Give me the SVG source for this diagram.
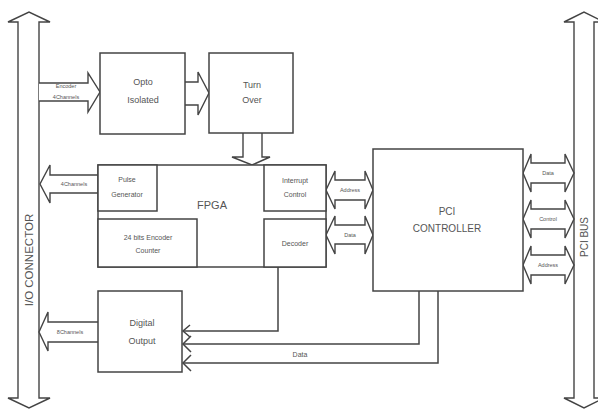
<svg xmlns="http://www.w3.org/2000/svg" width="598" height="410" viewBox="0 0 598 410">
<style>
.box{fill:#fff;stroke:#444;stroke-width:1.5}
.ar{fill:#fff;stroke:#444;stroke-width:1.4;stroke-linejoin:miter}
.ln{fill:none;stroke:#444;stroke-width:1.5}
text{font-family:"Liberation Sans",Arial,sans-serif;fill:#555;text-anchor:middle}
.t9{font-size:9px}
.t7{font-size:7px}
.t6{font-size:5.5px}
.t11{font-size:11px}
</style>
<rect width="598" height="410" fill="#fff"/>
<g id="io-connector">
<path class="ar" d="M18,22 L8,22 L29,12 L50,22 L39,22 L39,398 L50,398 L29,408 L8,398 L18,398 Z"/>
<text font-size="11.5" transform="translate(33,260) rotate(-90)">I/O CONNECTOR</text>
</g>
<g id="pci-bus">
<path class="ar" d="M574,22 L564,22 L584,12 L604,22 L594,22 L594,398 L604,398 L584,408 L564,398 L574,398 Z"/>
<text font-size="10" transform="translate(588,237) rotate(-90)">PCI BUS</text>
</g>
<g id="connectors">
<path class="ar" d="M39,83 L88,83 L88,73 L100,92 L88,112 L88,101 L39,101"/>
<text class="t6" x="66" y="88">Encoder</text>
<text class="t6" x="66" y="99">4Channels</text>
<path class="ar" d="M185,82 L198,82 L198,72 L209,93 L198,115 L198,105 L185,105"/>
<path class="ar" d="M243,133 L243,157 L232,157 L252,165 L270,157 L262,157 L262,133"/>
<path class="ar" d="M98,175 L50,175 L50,165 L40,184 L50,203 L50,193 L98,193"/>
<text class="t6" x="74" y="186">4Channels</text>
<path class="ar" d="M98,322 L48,322 L48,312 L39,332 L48,351 L48,342 L98,342"/>
<text class="t6" x="70" y="334">8Channels</text>
<path class="ar" d="M326,190 L335,171 L335,180 L365,180 L365,171 L373,190 L365,209 L365,200 L335,200 L335,209 Z"/>
<text class="t6" x="350" y="192">Address</text>
<path class="ar" d="M326,235 L335,216 L335,225 L365,225 L365,216 L373,235 L365,254 L365,244 L335,244 L335,254 Z"/>
<text class="t6" x="350" y="237">Data</text>
<path class="ar" d="M523,173 L531,154 L531,163 L565,163 L565,154 L574,173 L565,192 L565,183 L531,183 L531,192 Z"/>
<text class="t6" x="548" y="175">Data</text>
<path class="ar" d="M523,219 L531,200 L531,209 L565,209 L565,200 L574,219 L565,238 L565,229 L531,229 L531,238 Z"/>
<text class="t6" x="548" y="221">Control</text>
<path class="ar" d="M523,265 L531,246 L531,255 L565,255 L565,246 L574,265 L565,284 L565,275 L531,275 L531,284 Z"/>
<text class="t6" x="548" y="267">Address</text>
<path class="ln" d="M278,267 L278,331 L183,331"/>
<path class="ln" d="M190,325 L183,331 L190,337"/>
<path class="ln" d="M419,291 L419,344 L183,344"/>
<path class="ln" d="M191,336 L183,344 L191,352"/>
<path class="ln" d="M438,291 L438,363 L183,363"/>
<path class="ln" d="M191,355 L183,363 L191,371"/>
<text class="t7" x="300" y="357">Data</text>
</g>
<g id="opto">
<rect class="box" x="100" y="53" width="85" height="81"/>
<text class="t9" x="143" y="85">Opto</text>
<text class="t9" x="143" y="103">Isolated</text>
</g>
<g id="turn-over">
<rect class="box" x="209" y="53" width="84" height="80"/>
<text class="t9" x="252" y="88">Turn</text>
<text class="t9" x="252" y="103">Over</text>
</g>
<g id="fpga">
<rect class="box" x="98" y="165" width="228" height="102"/>
<text class="t11" x="212" y="209">FPGA</text>
</g>
<g id="pulse-generator">
<rect class="box" x="98" y="165" width="59" height="46"/>
<text class="t7" x="127" y="182">Pulse</text>
<text class="t7" x="127" y="197">Generator</text>
</g>
<g id="interrupt-control">
<rect class="box" x="264" y="165" width="62" height="46"/>
<text class="t7" x="295" y="183">Interrupt</text>
<text class="t7" x="295" y="197">Control</text>
</g>
<g id="encoder-counter">
<rect class="box" x="98" y="219" width="99" height="48"/>
<text class="t7" x="148" y="240">24 bits Encoder</text>
<text class="t7" x="148" y="253">Counter</text>
</g>
<g id="decoder">
<rect class="box" x="264" y="219" width="62" height="48"/>
<text class="t7" x="295" y="246">Decoder</text>
</g>
<g id="pci-controller">
<rect class="box" x="373" y="149" width="150" height="142"/>
<text font-size="10" x="447" y="215">PCI</text>
<text font-size="10" x="447" y="232">CONTROLLER</text>
</g>
<g id="digital-output">
<rect class="box" x="98" y="291" width="84" height="81"/>
<text class="t9" x="142" y="326">Digital</text>
<text class="t9" x="142" y="344">Output</text>
</g>
</svg>
